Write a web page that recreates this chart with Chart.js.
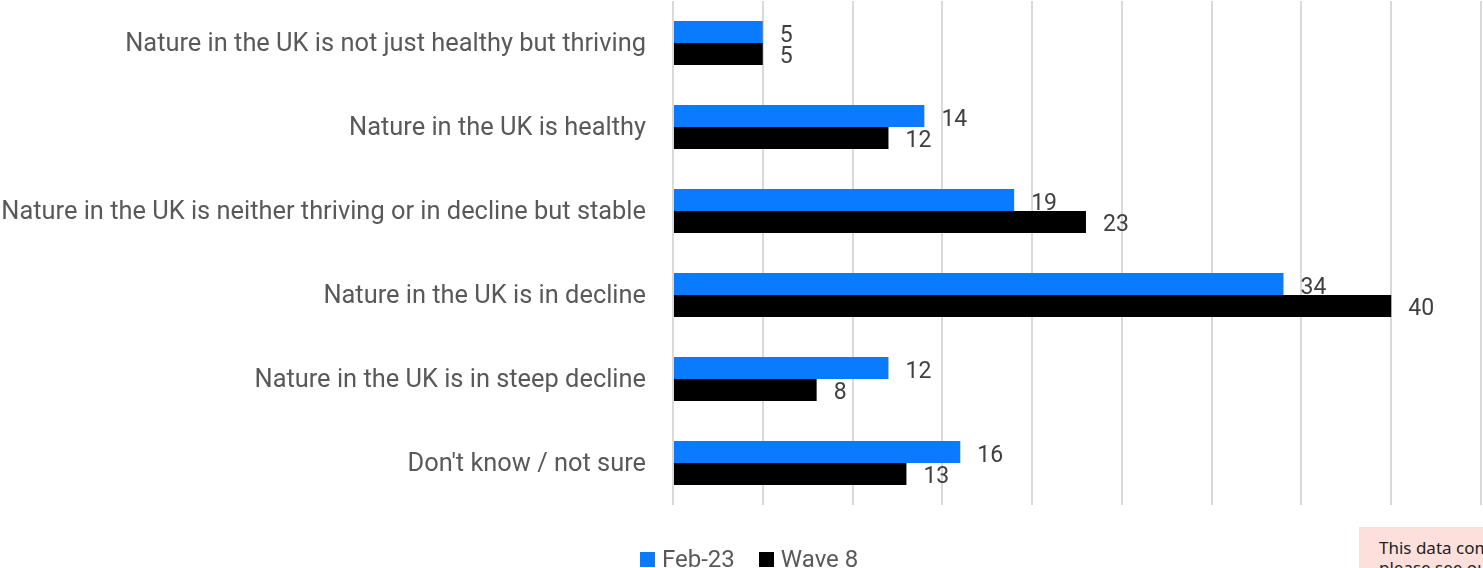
<!DOCTYPE html>
<html>
<head>
<meta charset="utf-8">
<script src="https://cdn.jsdelivr.net/npm/chart.js@4.4.1/dist/chart.umd.min.js"></script>
<style>
  body { margin: 0; width: 1483px; height: 568px; overflow: hidden; background: #fff; position: relative; font-family: Roboto, sans-serif; }
  #wrap { position: absolute; left: 0; top: 0; width: 1483px; height: 568px; }
  .legend { position: absolute; left: 640px; top: 545px; display: flex; align-items: center; font-size: 24px; color: #595959; white-space: nowrap; }
  .legend .box { width: 15px; height: 15px; display: inline-block; margin-right: 7px; }
  .legend .item { display: flex; align-items: center; margin-right: 24px; }
  .note { position: absolute; left: 1359px; top: 527px; width: 300px; height: 80px; background: #fde0dc; color: #222; font-size: 17px; line-height: 20px; padding: 11px 0 0 20px; box-sizing: border-box; font-family: "Noto Sans", sans-serif; white-space: nowrap; }
</style>
</head>
<body>
<div id="wrap"><canvas id="nature-chart"></canvas></div>
<div class="legend">
  <span class="item"><span class="box" style="background:#0a7aff"></span>Feb-23</span>
  <span class="item"><span class="box" style="background:#000"></span>Wave 8</span>
</div>
<div class="note">This data comes from a survey,<br>please see our methodology</div>
<script>
const categories = [
  'Nature in the UK is not just healthy but thriving',
  'Nature in the UK is healthy',
  'Nature in the UK is neither thriving or in decline but stable',
  'Nature in the UK is in decline',
  'Nature in the UK is in steep decline',
  "Don't know / not sure"
]
const feb23 = [5, 14, 19, 34, 12, 16]
const wave8 = [5, 12, 23, 40, 8, 13]

const BLUE = '#0a7aff'
const GRID = '#d9d9d9'

// numbers written just past the end of each bar
const valueLabels = {
  id: 'valueLabels',
  afterDatasetsDraw(chart) {
    const ctx = chart.ctx
    ctx.save()
    ctx.font = '23px Roboto'
    ctx.fillStyle = '#404040'
    ctx.textBaseline = 'middle'
    chart.data.datasets.forEach((ds, i) => {
      const dy = i === 0 ? 4 : 3
      chart.getDatasetMeta(i).data.forEach((bar, j) => {
        ctx.fillText(ds.data[j], bar.x + 17, bar.y + dy)
      })
    })
    ctx.restore()
  }
}

function draw() {
  const el = document.getElementById('nature-chart')
  new Chart(el, {
    type: 'bar',
    data: {
      labels: categories,
      datasets: [
        { label: 'Feb-23', data: feb23, backgroundColor: BLUE },
        { label: 'Wave 8', data: wave8, backgroundColor: '#000' }
      ]
    },
    options: {
      indexAxis: 'y',
      responsive: true,
      maintainAspectRatio: false,
      animation: false,
      layout: { padding: { top: 1, right: 2, bottom: 63, left: 0 } },
      datasets: { bar: { categoryPercentage: 0.524, barPercentage: 1 } },
      plugins: {
        legend: { display: false },
        tooltip: { enabled: false }
      },
      scales: {
        x: {
          min: 0,
          max: 45,
          ticks: { display: false, stepSize: 5 },
          grid: { color: GRID, lineWidth: 2, drawTicks: false },
          border: { display: false }
        },
        y: {
          grid: { display: false, drawTicks: false },
          border: { display: false },
          ticks: { padding: 27, labelOffset: 2, color: '#595959', font: { family: 'Roboto', size: 25.4 } },
          afterFit: (scale) => {
            // fixed label column; no extra room above/below the category band
            scale.width = 673
            scale.paddingTop = 0
            scale.paddingBottom = 0
          }
        }
      }
    },
    plugins: [valueLabels]
  })
}

document.fonts.load('25px Roboto').then(draw, draw)
</script>
</body>
</html>
